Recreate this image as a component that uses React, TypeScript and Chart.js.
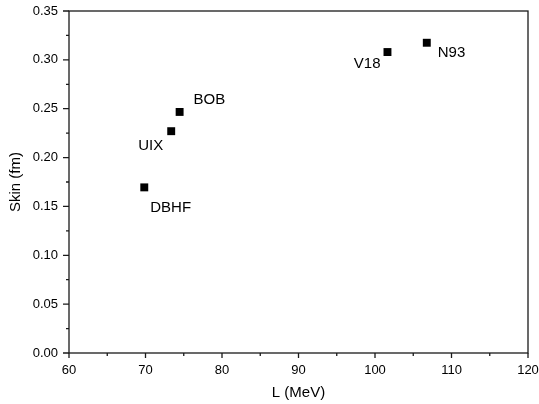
import React, { useEffect, useRef } from "react";
import { Chart, registerables } from "chart.js";

Chart.register(...registerables);

// ---- data ----
const MODEL_NAMES = ["DBHF", "UIX", "BOB", "V18", "N93"];
const L_VALUES = [69.84, 73.36, 74.46, 101.63, 106.77];
const SKIN_VALUES = [0.1695, 0.227, 0.2467, 0.308, 0.3175];
const X_MIN = 60;
const X_MAX = 120;
const Y_MIN = 0;
const Y_MAX = 0.35;
const X_TITLE = "L (MeV)";
const Y_TITLE = "Skin (fm)";

// ---- label styling (pixel offsets from marker, alignment) ----
const LABEL_STYLE: { dx: number; dy: number; align: CanvasTextAlign }[] = [
  { dx: 6, dy: 20, align: "left" },
  { dx: -8, dy: 15, align: "right" },
  { dx: 14, dy: -12, align: "left" },
  { dx: -7, dy: 12, align: "right" },
  { dx: 11, dy: 10, align: "left" },
];

const FONT = "'Liberation Sans', Arial, sans-serif";
const AXIS_COLOR = "#1a1a1a";

const zeroPad = (s: any) => {
  s.paddingTop = 0;
  s.paddingBottom = 0;
  s.paddingLeft = 0;
  s.paddingRight = 0;
};

const framePlugin = {
  id: "frameTicks",
  afterDraw(chart: any) {
    const { ctx, chartArea } = chart;
    const { left, right, top, bottom } = chartArea;
    ctx.save();
    ctx.strokeStyle = AXIS_COLOR;
    ctx.lineWidth = 1.3;
    ctx.strokeRect(left, top, right - left, bottom - top);
    const xs = chart.scales.x;
    const ys = chart.scales.y;
    ctx.beginPath();
    xs.ticks.forEach((t: any) => {
      const px = xs.getPixelForValue(t.value);
      const major = Math.round(t.value) % 10 === 0;
      ctx.moveTo(px, bottom);
      ctx.lineTo(px, bottom + (major ? 5 : 3));
    });
    ys.ticks.forEach((t: any) => {
      const py = ys.getPixelForValue(t.value);
      const major = Math.round(t.value * 1000) % 50 === 0;
      ctx.moveTo(left, py);
      ctx.lineTo(left - (major ? 6 : 3), py);
    });
    ctx.stroke();
    ctx.restore();
  },
};

const labelPlugin = {
  id: "pointLabels",
  afterDatasetsDraw(chart: any) {
    const { ctx } = chart;
    const meta = chart.getDatasetMeta(0);
    ctx.save();
    ctx.font = `15px ${FONT}`;
    ctx.fillStyle = "#000";
    ctx.textBaseline = "middle";
    meta.data.forEach((el: any, i: number) => {
      const s = LABEL_STYLE[i];
      ctx.textAlign = s.align;
      ctx.fillText(MODEL_NAMES[i], el.x + s.dx, el.y + s.dy);
    });
    ctx.restore();
  },
};

export default function App() {
  const ref = useRef<HTMLCanvasElement | null>(null);

  useEffect(() => {
    document.body.style.margin = "0";
    const canvas = ref.current;
    if (!canvas) return;
    const chart = new Chart(canvas, {
      type: "scatter",
      data: {
        datasets: [
          {
            data: L_VALUES.map((x, i) => ({ x, y: SKIN_VALUES[i] })),
            pointStyle: "rect",
            pointRadius: 5.6,
            pointHoverRadius: 5.6,
            backgroundColor: "#000",
            borderColor: "#000",
            borderWidth: 0,
          },
        ],
      },
      options: {
        animation: false,
        responsive: false,
        devicePixelRatio: 1,
        layout: { padding: { top: 11, right: 11, left: 0, bottom: 0 } },
        plugins: {
          legend: { display: false },
          tooltip: { enabled: false },
        },
        scales: {
          x: {
            type: "linear",
            min: X_MIN,
            max: X_MAX,
            afterFit: (s: any) => {
              s.height = 51;
              zeroPad(s);
            },
            grid: { display: false, drawTicks: false },
            border: { display: false },
            ticks: {
              stepSize: 5,
              autoSkip: false,
              maxRotation: 0,
              padding: 10,
              color: "#000",
              font: { family: FONT, size: 13 },
              callback: (v: any) => (Math.round(v) % 10 === 0 ? String(v) : ""),
            },
            title: {
              display: true,
              text: X_TITLE,
              color: "#000",
              font: { family: FONT, size: 15 },
              padding: { top: 0, bottom: 2 },
            },
          },
          y: {
            type: "linear",
            min: Y_MIN,
            max: Y_MAX,
            afterFit: (s: any) => {
              s.width = 69;
              zeroPad(s);
            },
            grid: { display: false, drawTicks: false },
            border: { display: false },
            ticks: {
              stepSize: 0.025,
              autoSkip: false,
              padding: 11,
              color: "#000",
              font: { family: FONT, size: 13 },
              callback: (v: any) =>
                Math.round(v * 1000) % 50 === 0 ? Number(v).toFixed(2) : "",
            },
            title: {
              display: true,
              text: Y_TITLE,
              color: "#000",
              font: { family: FONT, size: 15 },
              padding: { top: 7, bottom: 0 },
            },
          },
        },
      },
      plugins: [framePlugin, labelPlugin],
    });
    return () => chart.destroy();
  }, []);

  return (
    <div style={{ width: 539, height: 404 }}>
      <canvas ref={ref} width={539} height={404} style={{ display: "block" }} />
    </div>
  );
}
